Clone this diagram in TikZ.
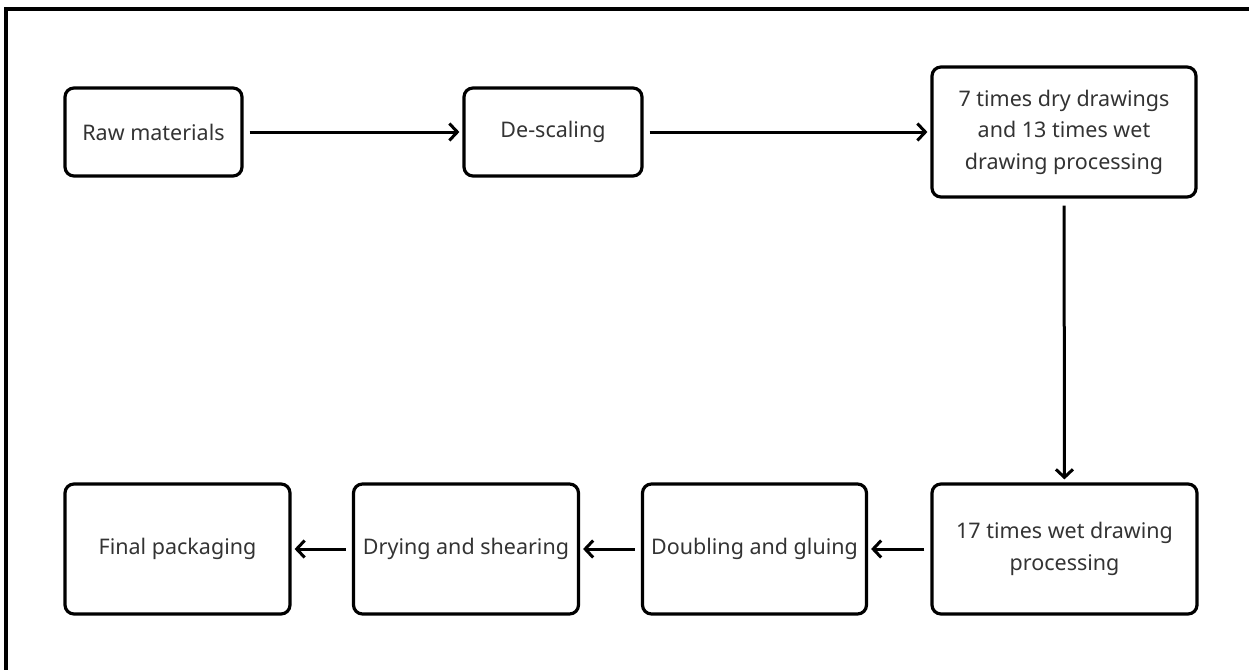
\documentclass[tikz,border=0pt]{standalone}
\usepackage{fontspec}
\setmainfont{Noto Sans}
\usetikzlibrary{arrows.meta}
\definecolor{txt}{HTML}{333333}
\tikzset{
  box/.style={draw=black, line width=3.2pt, rounded corners=9pt, align=center,
    text=txt, font=\fontsize{21.5}{31.5}\selectfont, inner sep=0pt},
  conn/.style={draw=black, line width=3pt,
    -{Straight Barb[length=8pt,width=17pt,line width=3pt]}, shorten <=6pt, shorten >=3pt}
}
\begin{document}
\begin{tikzpicture}[x=1pt,y=-1pt]
\useasboundingbox (0,0) rectangle (1249,669);
\begin{scope}
\clip (0,0) rectangle (1249,669);
\draw[line width=3.2pt] (6,9) rectangle (1270,690);
\end{scope}
\node[box, minimum width=177pt, minimum height=88pt] (raw) at (153.5,132) {Raw materials};
\node[box, minimum width=178pt, minimum height=88pt] (desc) at (553,132) {De-scaling};
\node[box, minimum width=264pt, minimum height=130pt] (dry) at (1064,132) {7 times dry drawings\\and 13 times wet\\drawing processing};
\node[box, minimum width=265pt, minimum height=130pt] (wet) at (1064.5,549) {17 times wet drawing\\processing};
\node[box, minimum width=224pt, minimum height=130pt] (dbl) at (754.5,549) {Doubling and gluing};
\node[box, minimum width=225pt, minimum height=130pt] (drying) at (466,549) {Drying and shearing};
\node[box, minimum width=225pt, minimum height=130pt] (final) at (177.5,549) {Final packaging};
\draw[conn] (raw) -- (desc);
\draw[conn] (desc) -- (dry);
\draw[conn, shorten <=7pt] (dry) -- (wet);
\draw[conn] (wet) -- (dbl);
\draw[conn] (dbl) -- (drying);
\draw[conn] (drying) -- (final);
\end{tikzpicture}
\end{document}
